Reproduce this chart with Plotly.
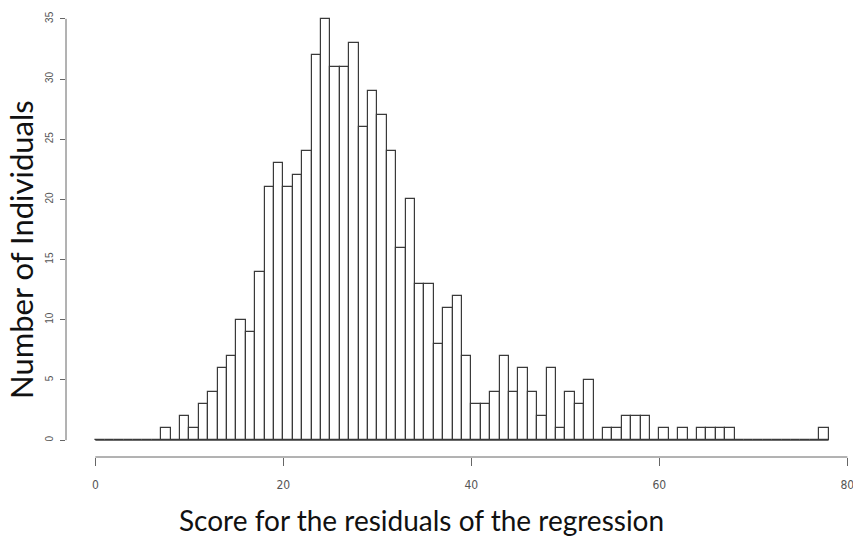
import numpy as np
import plotly.graph_objects as go

# Histogram data (bins of width 1 from 0 to 78)
bin_edges = list(range(0, 79))
counts = [0, 0, 0, 0, 0, 0, 0, 1, 0, 2,
          1, 3, 4, 6, 7, 10, 9, 14, 21, 23,
          21, 22, 24, 32, 35, 31, 31, 33, 26, 29,
          27, 24, 16, 20, 13, 13, 8, 11, 12, 7,
          3, 3, 4, 7, 4, 6, 4, 2, 6, 1,
          4, 3, 5, 0, 1, 1, 2, 2, 2, 0,
          1, 0, 1, 0, 1, 1, 1, 1, 0, 0,
          0, 0, 0, 0, 0, 0, 0, 1]
x_ticks = [0, 20, 40, 60, 80]
y_ticks = [0, 5, 10, 15, 20, 25, 30, 35]
x_title = "Score for the residuals of the regression"
y_title = "Number of Individuals"

edges = np.array(bin_edges, dtype=float)
centers = (edges[:-1] + edges[1:]) / 2
widths = np.diff(edges)

line_col = "#3a3a3a"
tick_col = "#666666"
x_tick_font = dict(family="DejaVu Sans Condensed, Liberation Sans Narrow, Arial Narrow, Liberation Sans", size=12, color="#555555")
y_tick_font = dict(family="Liberation Sans, Arial", size=10, color="#555555")
x_title_font = dict(family="Lato, Open Sans, sans-serif", size=28, color="#111111")
y_title_font = dict(family="Lato, Open Sans, sans-serif", size=31, color="#111111")

fig = go.Figure()
# baseline for the empty bins (R draws them as flat lines)
fig.add_trace(go.Scatter(x=[edges[0], edges[-1]], y=[0, 0], mode="lines",
                         line=dict(color=line_col, width=1.2), hoverinfo="skip", showlegend=False))
fig.add_trace(go.Bar(x=centers, y=counts, width=widths,
                     marker=dict(color="white", line=dict(color=line_col, width=1.2)),
                     showlegend=False))

# axis lines spanning first to last tick (R style)
fig.add_shape(type="line", xref="x", yref="paper", x0=x_ticks[0], x1=x_ticks[-1], y0=0, y1=0,
              line=dict(color=tick_col, width=1))
fig.add_shape(type="line", xref="paper", yref="y", x0=0, x1=0, y0=y_ticks[0], y1=y_ticks[-1],
              line=dict(color=tick_col, width=1))

fig.update_layout(
    width=853, height=538,
    margin=dict(l=66, r=0, t=2, b=81),
    paper_bgcolor="white", plot_bgcolor="white",
    bargap=0,
    xaxis=dict(range=[-3.12, 80.6], tickvals=x_ticks, ticks="outside", ticklen=8,
               tickcolor=tick_col, tickfont=x_tick_font, showgrid=False, zeroline=False,
               showline=False, ticklabelstandoff=9, automargin=False,
               ticklabeloverflow="allow"),
    yaxis=dict(range=[-1.4, 36.4], tickvals=y_ticks, ticks="outside", ticklen=5,
               tickcolor=tick_col, tickfont=y_tick_font, tickangle=-90, showgrid=False,
               zeroline=False, showline=False, ticklabelstandoff=3, automargin=False,
               ticklabeloverflow="allow"),
    annotations=[
        dict(text=x_title, xref="paper", yref="paper", x=(421 - 66) / 787, y=-63 / 455,
             xanchor="center", yanchor="middle", showarrow=False, font=x_title_font),
        dict(text=y_title, xref="paper", yref="paper", x=(21 - 66) / 787, y=(457 - 250) / 455,
             xanchor="center", yanchor="middle", textangle=-90, showarrow=False, font=y_title_font),
    ],
)

fig.write_html("out.html", config={"displayModeBar": False},
               post_script="document.body.style.margin='0px';")
